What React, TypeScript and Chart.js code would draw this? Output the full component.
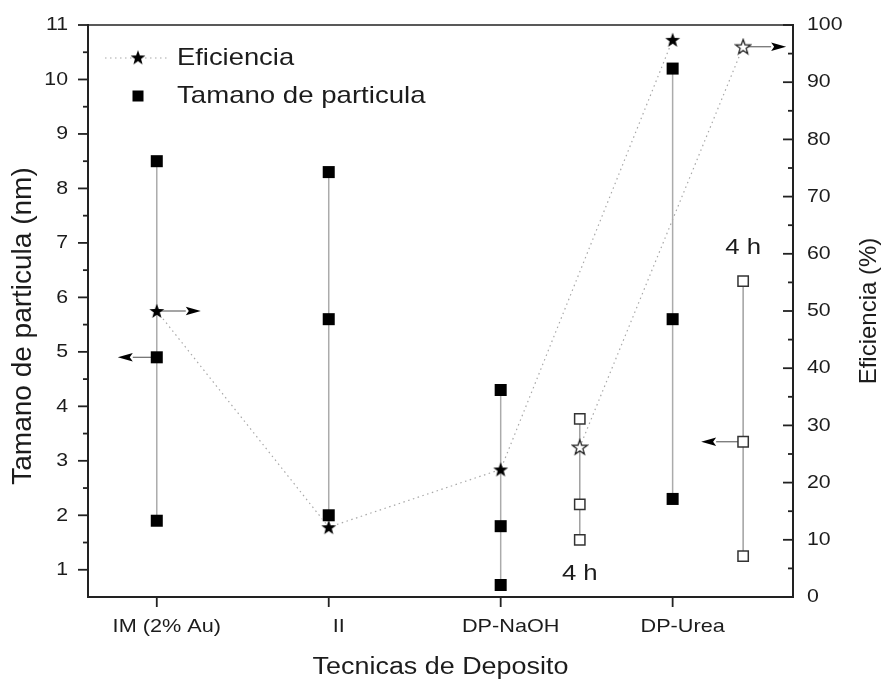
import { useEffect, useRef } from 'react';
import { Chart, registerables } from 'chart.js';

Chart.register(...registerables);

// Deposition techniques on the x axis
const categories = ['IM (2% Au)', 'II', 'DP-NaOH', 'DP-Urea'];
const categoryX = [1, 2, 3, 4];

// Particle size (nm): largest, mean and smallest per technique
const sizeTop = [8.5, 8.3, 4.3, 10.2];
const sizeMid = [4.9, 5.6, 1.8, 5.6];
const sizeLow = [1.9, 2.0, 0.72, 2.3];
// Efficiency (%) per technique
const efficiency = [50, 12.2, 22.3, 97.4];

// 4 h samples (DP-NaOH and DP-Urea)
const x4h = [3.46, 4.41];
const size4hTop = [3.77, 6.3];
const size4hMid = [2.2, 3.35];
const size4hLow = [1.55, 1.25];
const efficiency4h = [26.2, 96.2];

// Axis ticks
const sizeTicks = [1, 2, 3, 4, 5, 6, 7, 8, 9, 10, 11];
const effTicks = [0, 10, 20, 30, 40, 50, 60, 70, 80, 90, 100];

const FONT = '"Liberation Sans", Arial, Helvetica, sans-serif';
const INK = '#1c1c1c';

function makeStar(fill: string, stroke: string | null): HTMLCanvasElement {
  const c = document.createElement('canvas');
  c.width = 18;
  c.height = 18;
  const g = c.getContext('2d')!;
  const R = 7.8;
  const r = 3.2;
  g.beginPath();
  for (let i = 0; i < 10; i++) {
    const a = -Math.PI / 2 + (i * Math.PI) / 5;
    const rad = i % 2 === 0 ? R : r;
    const px = 9 + rad * Math.cos(a);
    const py = 9.6 + rad * Math.sin(a);
    if (i === 0) g.moveTo(px, py);
    else g.lineTo(px, py);
  }
  g.closePath();
  g.fillStyle = fill;
  g.fill();
  if (stroke) {
    g.strokeStyle = stroke;
    g.lineWidth = 1.3;
    g.lineJoin = 'miter';
    g.stroke();
  }
  return c;
}

function drawText(
  ctx: CanvasRenderingContext2D,
  text: string,
  x: number,
  y: number,
  size: number,
  sx: number,
  align: CanvasTextAlign,
  rotate = 0
) {
  ctx.save();
  ctx.translate(x, y);
  if (rotate) ctx.rotate(rotate);
  ctx.scale(sx, 1);
  ctx.font = `${size}px ${FONT}`;
  ctx.textAlign = align;
  ctx.textBaseline = 'middle';
  ctx.fillStyle = INK;
  ctx.fillText(text, 0, 0);
  ctx.restore();
}

function midpoints(vals: number[]): number[] {
  const out: number[] = [];
  for (let i = 0; i < vals.length - 1; i++) out.push((vals[i] + vals[i + 1]) / 2);
  return out;
}

export default function App() {
  const ref = useRef<HTMLCanvasElement>(null);

  useEffect(() => {
    const canvas = ref.current;
    if (!canvas) return;

    const starFilled = makeStar('#000', null);
    const starHollow = makeStar('#fff', '#222');

    // arrows pointing from a marker toward the axis it belongs to
    const arrows = [
      { x: categoryX[0], y: efficiency[0], axis: 'y1', dir: 1, len: 44 },
      { x: categoryX[0], y: sizeMid[0], axis: 'y', dir: -1, len: 39 },
      { x: x4h[1], y: efficiency4h[1], axis: 'y1', dir: 1, len: 43 },
      { x: x4h[1], y: size4hMid[1], axis: 'y', dir: -1, len: 42 },
    ];

    // "4 h" tags beside the 4 h series (data coordinates on the size axis)
    const tags = [
      { x: x4h[0], y: 0.92 },
      { x: x4h[1], y: 6.91 },
    ];

    const rangeLines = [
      ...categoryX.map((x, i) => ({
        type: 'line' as const,
        data: [
          { x, y: sizeLow[i] },
          { x, y: sizeTop[i] },
        ],
        yAxisID: 'y',
        borderColor: '#ababab',
        borderWidth: 1.5,
        pointRadius: 0,
      })),
      ...x4h.map((x, i) => ({
        type: 'line' as const,
        data: [
          { x, y: size4hLow[i] },
          { x, y: size4hTop[i] },
        ],
        yAxisID: 'y',
        borderColor: '#a0a0a0',
        borderWidth: 1.5,
        pointRadius: 0,
      })),
    ];

    const filledSquares = categoryX.flatMap((x, i) => [
      { x, y: sizeTop[i] },
      { x, y: sizeMid[i] },
      { x, y: sizeLow[i] },
    ]);
    const hollowSquares = x4h.flatMap((x, i) => [
      { x, y: size4hTop[i] },
      { x, y: size4hMid[i] },
      { x, y: size4hLow[i] },
    ]);

    const decor = {
      id: 'decor',
      beforeDatasetsDraw(chart: any) {
        const ctx: CanvasRenderingContext2D = chart.ctx;
        const xs = chart.scales.x;
        ctx.save();
        for (const a of arrows) {
          const ys = chart.scales[a.axis];
          const px = xs.getPixelForValue(a.x);
          const py = ys.getPixelForValue(a.y);
          const tip = px + a.dir * a.len;
          const headLen = 15;
          ctx.strokeStyle = '#6a6a6a';
          ctx.lineWidth = 1.2;
          ctx.beginPath();
          ctx.moveTo(px, py);
          ctx.lineTo(tip - a.dir * headLen, py);
          ctx.stroke();
          ctx.fillStyle = '#000';
          ctx.beginPath();
          ctx.moveTo(tip, py);
          ctx.lineTo(tip - a.dir * headLen, py - 4.3);
          ctx.lineTo(tip - a.dir * (headLen - 3), py);
          ctx.lineTo(tip - a.dir * headLen, py + 4.3);
          ctx.closePath();
          ctx.fill();
        }
        ctx.restore();
      },
      afterDraw(chart: any) {
        const ctx: CanvasRenderingContext2D = chart.ctx;
        const { left, right, top, bottom } = chart.chartArea;
        const xs = chart.scales.x;
        const ys = chart.scales.y;
        const y1 = chart.scales.y1;
        ctx.save();

        // top frame line
        ctx.strokeStyle = '#222';
        ctx.lineWidth = 1.6;
        ctx.beginPath();
        ctx.moveTo(left, top);
        ctx.lineTo(right + 1, top);
        ctx.stroke();

        // tick marks
        ctx.lineWidth = 1.8;
        ctx.strokeStyle = '#222';
        const tick = (x0: number, y0: number, x1: number, y1p: number) => {
          ctx.beginPath();
          ctx.moveTo(x0, y0);
          ctx.lineTo(x1, y1p);
          ctx.stroke();
        };
        for (const v of sizeTicks) {
          const p = ys.getPixelForValue(v);
          tick(left, p, left - 10, p);
        }
        for (const v of midpoints(sizeTicks)) {
          const p = ys.getPixelForValue(v);
          tick(left, p, left - 5, p);
        }
        for (const v of effTicks) {
          const p = y1.getPixelForValue(v);
          tick(right, p, right - 10, p);
        }
        for (const v of midpoints(effTicks)) {
          const p = y1.getPixelForValue(v);
          tick(right, p, right - 5, p);
        }
        for (const v of categoryX) {
          const p = xs.getPixelForValue(v);
          tick(p, bottom, p, bottom + 10);
        }

        // tick labels
        for (const v of sizeTicks) {
          drawText(ctx, String(v), left - 20, ys.getPixelForValue(v), 19, 1.12, 'right');
        }
        for (const v of effTicks) {
          drawText(ctx, String(v), right + 14, y1.getPixelForValue(v), 19, 1.12, 'left');
        }
        categoryX.forEach((v, i) => {
          drawText(ctx, categories[i], xs.getPixelForValue(v) + 10, bottom + 30, 19, 1.14, 'center');
        });

        // axis titles
        drawText(ctx, 'Tecnicas de Deposito', (left + right) / 2, bottom + 71, 23, 1.17, 'center');
        drawText(ctx, 'Tamano de particula (nm)', 23, (top + bottom) / 2 + 15, 28, 1, 'center', -Math.PI / 2);
        drawText(ctx, 'Eficiencia (%)', right + 76, (top + bottom) / 2, 24, 1, 'center', -Math.PI / 2);

        // "4 h" tags
        for (const t of tags) {
          drawText(ctx, '4 h', xs.getPixelForValue(t.x), ys.getPixelForValue(t.y), 22, 1.17, 'center');
        }

        // legend
        const lx = left + 50;
        const ly1 = top + 33;
        const ly2 = top + 71;
        ctx.strokeStyle = '#a8a8a8';
        ctx.lineWidth = 1.2;
        ctx.setLineDash([1.5, 3.5]);
        ctx.beginPath();
        ctx.moveTo(lx - 33, ly1);
        ctx.lineTo(lx + 32, ly1);
        ctx.stroke();
        ctx.setLineDash([]);
        ctx.drawImage(starFilled, lx - 9, ly1 - 9.6);
        ctx.fillStyle = '#000';
        ctx.fillRect(lx - 5.5, ly2 - 5.5, 11, 11);
        drawText(ctx, 'Eficiencia', lx + 39, ly1, 24, 1.14, 'left');
        drawText(ctx, 'Tamano de particula', lx + 39, ly2, 24, 1.15, 'left');

        ctx.restore();
      },
    };

    const chart = new Chart(canvas, {
      data: {
        datasets: [
          {
            type: 'line',
            label: 'Eficiencia',
            data: categoryX.map((x, i) => ({ x, y: efficiency[i] })),
            yAxisID: 'y1',
            borderColor: '#a8a8a8',
            borderWidth: 1.2,
            borderDash: [1.5, 3.5],
            pointStyle: starFilled,
            pointRadius: 8,
          },
          {
            type: 'line',
            label: 'Eficiencia 4 h',
            data: x4h.map((x, i) => ({ x, y: efficiency4h[i] })),
            yAxisID: 'y1',
            borderColor: '#a8a8a8',
            borderWidth: 1.2,
            borderDash: [1.5, 3.5],
            pointStyle: starHollow,
            pointRadius: 8,
          },
          {
            type: 'scatter',
            label: 'Tamano de particula',
            data: filledSquares,
            yAxisID: 'y',
            pointStyle: 'rect',
            pointRadius: 8.5,
            backgroundColor: '#000',
            borderColor: '#000',
            borderWidth: 0,
          },
          {
            type: 'scatter',
            label: 'Tamano de particula 4 h',
            data: hollowSquares,
            yAxisID: 'y',
            pointStyle: 'rect',
            pointRadius: 7.3,
            backgroundColor: '#fff',
            borderColor: '#333',
            borderWidth: 1.5,
          },
          ...rangeLines,
        ] as any,
      },
      options: {
        animation: false,
        responsive: true,
        maintainAspectRatio: false,
        events: [],
        layout: { padding: { top: 25, left: 0, right: 0, bottom: 0 } },
        plugins: { legend: { display: false }, tooltip: { enabled: false } },
        scales: {
          x: {
            type: 'linear',
            position: 'bottom',
            min: 0.6,
            max: 4.7,
            afterBuildTicks: (s: any) => {
              s.ticks = categoryX.map((v) => ({ value: v }));
            },
            afterFit: (s: any) => {
              s.height = 85;
            },
            ticks: { display: false },
            grid: { display: false, drawTicks: false },
            border: { display: true, color: '#222', width: 2 },
          },
          y: {
            type: 'linear',
            position: 'left',
            min: 0.5,
            max: 11,
            afterBuildTicks: (s: any) => {
              s.ticks = sizeTicks.map((v) => ({ value: v }));
            },
            afterFit: (s: any) => {
              s.width = 88;
            },
            ticks: { display: false },
            grid: { display: false, drawTicks: false },
            border: { display: true, color: '#222', width: 2 },
          },
          y1: {
            type: 'linear',
            position: 'right',
            min: 0,
            max: 100,
            afterBuildTicks: (s: any) => {
              s.ticks = effTicks.map((v) => ({ value: v }));
            },
            afterFit: (s: any) => {
              s.width = 91;
            },
            ticks: { display: false },
            grid: { display: false, drawTicks: false },
            border: { display: true, color: '#222', width: 2 },
          },
        },
      } as any,
      plugins: [decor],
    });

    return () => chart.destroy();
  }, []);

  return (
    <div
      style={{
        position: 'absolute',
        left: 0,
        top: 0,
        width: 884,
        height: 682,
        background: '#fff',
      }}
    >
      <canvas ref={ref} style={{ display: 'block' }} />
    </div>
  );
}
